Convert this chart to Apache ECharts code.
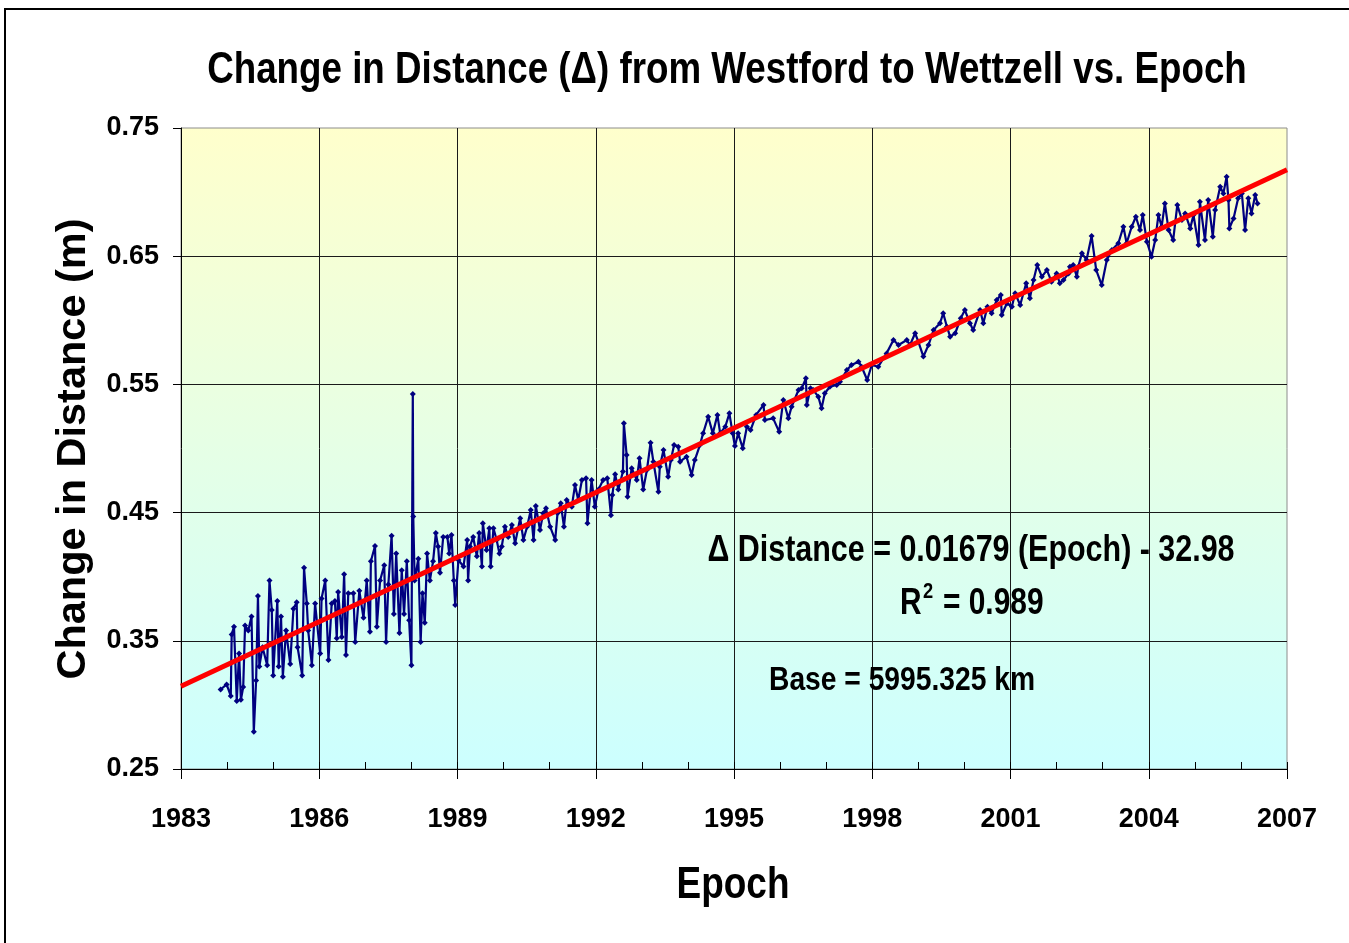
<!DOCTYPE html>
<html><head><meta charset="utf-8">
<script src="https://cdn.jsdelivr.net/npm/echarts/dist/echarts.min.js"></script>
<style>html,body{margin:0;padding:0;background:#fff}#c{width:1349px;height:943px}</style>
</head><body><div id="c"></div>
<script>
const FONT = "'Liberation Sans', Arial, sans-serif";

const epochs = [1983.86,1983.99,1984.08,1984.10,1984.15,1984.21,1984.26,1984.30,1984.35,1984.39,1984.46,1984.53,1984.58,1984.63,1984.67,1984.70,1984.77,1984.87,1984.92,1984.97,1985.00,1985.09,1985.12,1985.17,1985.21,1985.28,1985.37,1985.44,1985.51,1985.53,1985.63,1985.67,1985.73,1985.76,1985.84,1985.91,1986.02,1986.05,1986.13,1986.20,1986.27,1986.34,1986.38,1986.41,1986.49,1986.54,1986.58,1986.63,1986.74,1986.78,1986.87,1986.96,1987.03,1987.10,1987.12,1987.21,1987.25,1987.32,1987.41,1987.45,1987.50,1987.57,1987.62,1987.67,1987.74,1987.79,1987.84,1987.90,1987.95,1988.00,1988.03,1988.04,1988.07,1988.15,1988.20,1988.24,1988.29,1988.34,1988.40,1988.47,1988.53,1988.58,1988.62,1988.69,1988.78,1988.82,1988.87,1988.92,1988.95,1989.02,1989.13,1989.21,1989.23,1989.27,1989.34,1989.42,1989.47,1989.53,1989.55,1989.63,1989.69,1989.72,1989.78,1989.85,1989.91,1989.96,1990.03,1990.10,1990.18,1990.25,1990.36,1990.43,1990.51,1990.59,1990.65,1990.70,1990.79,1990.86,1990.92,1991.01,1991.12,1991.17,1991.24,1991.31,1991.37,1991.48,1991.55,1991.62,1991.70,1991.79,1991.82,1991.91,1991.98,1992.06,1992.16,1992.25,1992.33,1992.36,1992.42,1992.49,1992.59,1992.61,1992.67,1992.69,1992.78,1992.89,1992.95,1993.03,1993.11,1993.19,1993.25,1993.36,1993.39,1993.47,1993.57,1993.63,1993.70,1993.79,1993.83,1993.97,1994.08,1994.15,1994.26,1994.33,1994.44,1994.54,1994.64,1994.70,1994.81,1994.90,1994.97,1995.02,1995.09,1995.19,1995.28,1995.36,1995.48,1995.64,1995.67,1995.85,1995.98,1996.07,1996.18,1996.25,1996.40,1996.47,1996.56,1996.58,1996.66,1996.72,1996.83,1996.90,1996.97,1997.08,1997.23,1997.30,1997.45,1997.55,1997.70,1997.77,1997.89,1997.99,1998.13,1998.31,1998.46,1998.57,1998.75,1998.82,1998.93,1999.00,1999.11,1999.22,1999.33,1999.47,1999.54,1999.62,1999.69,1999.80,1999.92,2000.01,2000.12,2000.19,2000.34,2000.41,2000.50,2000.59,2000.70,2000.79,2000.81,2000.92,2001.03,2001.10,2001.21,2001.34,2001.42,2001.50,2001.58,2001.68,2001.79,2001.89,2002.00,2002.07,2002.15,2002.26,2002.29,2002.36,2002.44,2002.47,2002.55,2002.65,2002.76,2002.86,2002.98,2003.09,2003.20,2003.34,2003.45,2003.52,2003.63,2003.72,2003.81,2003.87,2003.96,2004.06,2004.14,2004.21,2004.28,2004.35,2004.43,2004.53,2004.62,2004.72,2004.79,2004.90,2004.97,2005.08,2005.11,2005.22,2005.29,2005.39,2005.44,2005.55,2005.62,2005.69,2005.73,2005.75,2005.84,2005.94,2006.02,2006.09,2006.16,2006.23,2006.31,2006.36];

const distances = [0.312,0.316,0.307,0.355,0.361,0.303,0.340,0.304,0.314,0.362,0.358,0.369,0.279,0.319,0.385,0.330,0.345,0.331,0.397,0.374,0.323,0.381,0.330,0.369,0.322,0.358,0.332,0.375,0.380,0.345,0.323,0.407,0.379,0.358,0.331,0.379,0.340,0.383,0.397,0.335,0.379,0.381,0.352,0.388,0.353,0.402,0.339,0.387,0.387,0.349,0.389,0.368,0.397,0.357,0.412,0.424,0.361,0.397,0.409,0.349,0.394,0.432,0.371,0.418,0.356,0.405,0.371,0.412,0.366,0.331,0.5425,0.447,0.397,0.414,0.349,0.387,0.364,0.418,0.397,0.412,0.434,0.4235,0.403,0.431,0.431,0.418,0.4325,0.397,0.378,0.413,0.408,0.4286,0.397,0.4235,0.431,0.416,0.434,0.408,0.4417,0.4208,0.4378,0.408,0.4378,0.4286,0.418,0.4235,0.439,0.431,0.4403,0.426,0.4456,0.4286,0.439,0.452,0.4286,0.4552,0.4364,0.4494,0.4533,0.439,0.4286,0.4494,0.4572,0.439,0.4598,0.4546,0.4715,0.4598,0.4754,0.4767,0.4417,0.4754,0.4546,0.468,0.4754,0.4767,0.448,0.4637,0.480,0.468,0.482,0.5197,0.4949,0.4624,0.4846,0.4754,0.4923,0.468,0.4832,0.5045,0.4897,0.4663,0.4858,0.4988,0.478,0.491,0.5027,0.5014,0.4897,0.4936,0.4793,0.491,0.5027,0.5118,0.5248,0.5118,0.5262,0.5118,0.517,0.5274,0.5118,0.502,0.5118,0.5002,0.517,0.5144,0.5262,0.534,0.5222,0.5235,0.513,0.5378,0.5235,0.5326,0.5456,0.547,0.5547,0.534,0.547,0.5456,0.5404,0.5313,0.5431,0.5482,0.5495,0.5521,0.5612,0.5651,0.5677,0.5638,0.5534,0.5651,0.5638,0.5742,0.5846,0.5807,0.5846,0.5807,0.5899,0.5833,0.5717,0.5807,0.5924,0.5977,0.6055,0.595,0.5872,0.5899,0.6016,0.608,0.5977,0.5924,0.608,0.5977,0.6106,0.6055,0.6158,0.6197,0.6041,0.6132,0.6106,0.6211,0.6119,0.6289,0.6172,0.6314,0.6431,0.634,0.6392,0.6301,0.6366,0.6289,0.6314,0.6366,0.6418,0.6431,0.634,0.6418,0.6523,0.6471,0.6658,0.6392,0.6275,0.6471,0.6548,0.6601,0.673,0.6601,0.673,0.6808,0.6704,0.6821,0.6613,0.6496,0.6626,0.6821,0.673,0.6912,0.6704,0.6626,0.69,0.6782,0.6834,0.6717,0.6821,0.6587,0.6925,0.6626,0.6938,0.6652,0.686,0.7042,0.699,0.712,0.6938,0.6717,0.6795,0.6952,0.699,0.6704,0.6952,0.6834,0.6977,0.6912];

const trendEpochs = [1983, 2007];
const trendValues = [0.3146, 0.7175];

const titleText = 'Change in Distance (\u0394) from Westford to Wettzell vs. Epoch';
const yName = 'Change in Distance (m)';
const xName = 'Epoch';
const eqText = '\u0394 Distance = 0.01679 (Epoch) - 32.98';
const r2Value = '= 0.989';
const baseText = 'Base = 5995.325 km';

const chart = echarts.init(document.getElementById('c'), null, {renderer: 'canvas'});
const series1 = epochs.map((e, i) => [e, distances[i]]);
const trend = trendEpochs.map((e, i) => [e, trendValues[i]]);

const bold = size => 'bold ' + size + 'px ' + FONT;
const txt = (x, y, text, size, sx, align, extra) => Object.assign({
  type: 'text', x: x, y: y, scaleX: sx, z: 10,
  style: {text: text, font: bold(size), fill: '#000', textAlign: align || 'center', textVerticalAlign: 'middle'}
}, extra || {});

chart.setOption({
  animation: false,
  backgroundColor: '#fff',
  grid: {
    left: 181, top: 128, width: 1106, height: 641,
    show: true, borderColor: '#8c8c8c', borderWidth: 1,
    backgroundColor: {type: 'linear', x: 0, y: 0, x2: 0, y2: 1,
      colorStops: [{offset: 0, color: '#FFFFCC'}, {offset: 1, color: '#CCFFFF'}]}
  },
  xAxis: [{
    type: 'value', min: 1983, max: 2007, interval: 3,
    axisLine: {show: true, lineStyle: {color: '#000', width: 1}},
    axisTick: {show: true, inside: false, length: 10, lineStyle: {color: '#000'}},
    axisLabel: {show: true, margin: 37, color: '#000', fontWeight: 'bold', fontSize: 27, fontFamily: FONT,
      formatter: v => String(v)},
    splitLine: {show: true, showMinLine: false, showMaxLine: false, lineStyle: {color: '#1a1a1a', width: 1}}
  }, {
    type: 'value', min: 1983, max: 2007, interval: 1, position: 'bottom',
    axisLine: {show: false},
    axisTick: {show: true, inside: true, length: 7, lineStyle: {color: '#000'}},
    axisLabel: {show: false},
    splitLine: {show: false}
  }],
  yAxis: {
    type: 'value', min: 0.25, max: 0.75, interval: 0.1,
    axisLine: {show: true, lineStyle: {color: '#000', width: 1}},
    axisTick: {show: true, inside: false, length: 8, lineStyle: {color: '#000'}},
    axisLabel: {show: true, margin: 22, color: '#000', fontWeight: 'bold', fontSize: 27, fontFamily: FONT,
      formatter: v => v.toFixed(2)},
    splitLine: {show: true, showMinLine: false, showMaxLine: false, lineStyle: {color: '#1a1a1a', width: 1}}
  },
  series: [{
    type: 'line', xAxisIndex: 0, data: series1,
    symbol: 'diamond', symbolSize: 6, showSymbol: true,
    itemStyle: {color: '#000080'},
    lineStyle: {color: '#000080', width: 2.2}
  }, {
    type: 'line', xAxisIndex: 0, data: trend,
    symbol: 'none', lineStyle: {color: '#FF0000', width: 5}, z: 5
  }],
  graphic: [
    {type: 'rect', shape: {x: 5, y: 9, width: 1400, height: 1000}, style: {fill: 'none', stroke: '#000', lineWidth: 2}, silent: true, z: 100},
    txt(727, 71, titleText, 44, 0.835),
    {type: 'text', x: 74, y: 449, rotation: Math.PI / 2, style: {text: yName, font: bold(41.5), fill: '#000', textAlign: 'center', textVerticalAlign: 'middle'}},
    txt(733, 886, xName, 44, 0.84),
    txt(971, 551, eqText, 37, 0.823),
    txt(900, 604, 'R', 36, 0.83, 'left'),
    txt(923, 592, '2', 22, 0.83, 'left'),
    txt(943, 604, r2Value, 36, 0.83, 'left'),
    txt(902, 681, baseText, 34, 0.83)
  ]
});
</script></body></html>
